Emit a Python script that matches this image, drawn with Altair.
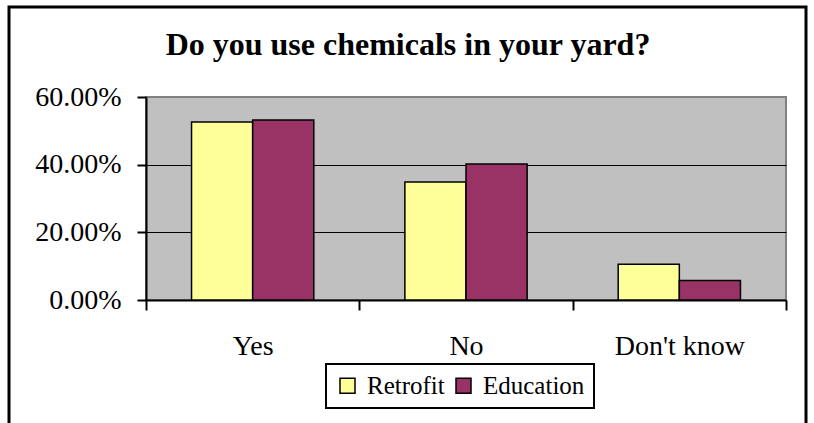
import altair as alt
import pandas as pd

# Survey answers and shares per group
answers = ["Yes", "No", "Don't know"]
groups = ["Retrofit", "Education"]
retrofit = [0.526, 0.349, 0.106]
education = [0.532, 0.402, 0.058]
colors = ["#FFFF99", "#993366"]
title_text = "Do you use chemicals in your yard?"

rows = []
for i, a in enumerate(answers):
    rows.append({"answer": a, "group": "Retrofit", "share": retrofit[i]})
    rows.append({"answer": a, "group": "Education", "share": education[i]})
df = pd.DataFrame(rows)

FONT = "Liberation Serif"

bars = alt.Chart(df).mark_bar(stroke="black", strokeWidth=1.5).encode(
    x=alt.X(
        "answer:N",
        sort=answers,
        title=None,
        scale=alt.Scale(paddingInner=0, paddingOuter=0),
        axis=alt.Axis(
            labelAngle=0,
            labelFont=FONT,
            labelFontSize=28,
            labelColor="black",
            labelPadding=22,
            domainColor="black",
            domainWidth=2,
            tickColor="black",
            tickWidth=2,
            tickSize=10,
            tickBand="extent",
        ),
    ),
    xOffset=alt.XOffset(
        "group:N",
        sort=groups,
        scale=alt.Scale(paddingInner=0, paddingOuter=0.745),
    ),
    y=alt.Y(
        "share:Q",
        title=None,
        scale=alt.Scale(domain=[0, 0.6], nice=False),
        axis=alt.Axis(
            values=[0, 0.2, 0.4, 0.6],
            format=".2%",
            labelFont=FONT,
            labelFontSize=28,
            labelColor="black",
            labelPadding=16,
            domainColor="black",
            domainWidth=2,
            tickColor="black",
            tickWidth=2,
            tickSize=9,
            grid=True,
            gridColor={"condition": {"test": "datum.value >= 0.59", "value": "#808080"}, "value": "black"},
            gridWidth=1,
        ),
    ),
    color=alt.Color(
        "group:N",
        sort=groups,
        scale=alt.Scale(domain=groups, range=colors),
        legend=alt.Legend(
            title=None,
            orient="none",
            legendX=180,
            legendY=267,
            direction="horizontal",
            columns=2,
            fillColor="white",
            strokeColor="black",
            padding=9,
            symbolType="square",
            symbolSize=225,
            symbolStrokeColor="black",
            symbolStrokeWidth=1.5,
            labelFont=FONT,
            labelFontSize=25,
            labelColor="black",
            labelOffset=7,
            columnPadding=6,
        ),
    ),
)

# Chart heading
heading = alt.Chart(alt.Data(values=[{"t": title_text}])).mark_text(
    font=FONT, fontSize=32, fontWeight="bold", color="black",
    align="center", baseline="alphabetic",
).encode(text="t:N", x=alt.value(262), y=alt.value(-42))

# Outer border around the whole chart
border = alt.Chart(alt.Data(values=[{"k": 1}])).mark_rect(
    filled=False, stroke="black", strokeWidth=3,
).encode(x=alt.value(-137), x2=alt.value(660), y=alt.value(-90), y2=alt.value(345))

chart = alt.layer(bars, heading, border).properties(
    width=640,
    height=203,
    autosize="none",
    padding={"left": 146, "top": 97, "right": 28, "bottom": 123},
    background="white",
).configure_view(
    fill="#C0C0C0",
    stroke="#808080",
    strokeWidth=2,
).configure_legend(
    strokeWidth=2,
    labelFont=FONT,
    labelFontSize=25,
)

chart.save("out.html", embed_options={"renderer": "svg", "actions": False})
